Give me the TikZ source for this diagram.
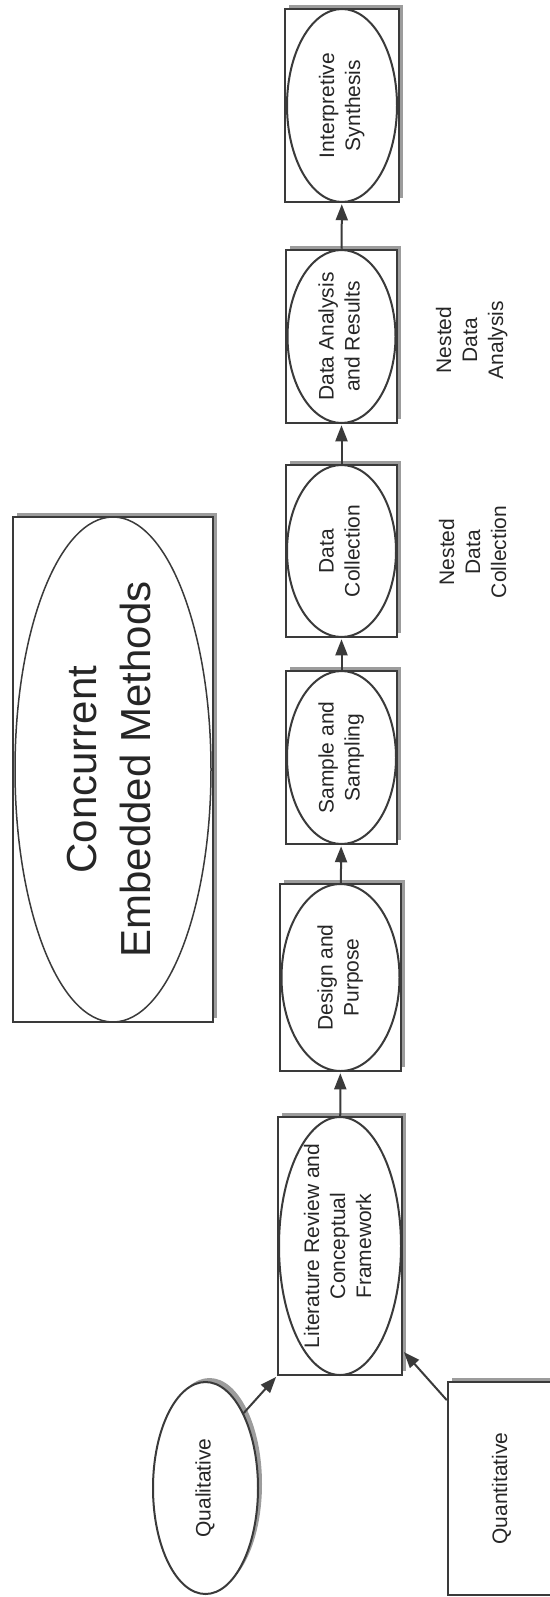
\documentclass[tikz,border=0pt]{standalone}
\usepackage{fontspec}
\setmainfont{Liberation Sans}
\usepackage{graphicx}
\usetikzlibrary{shapes.geometric,arrows.meta,shadows}

\definecolor{inkgray}{HTML}{3A3A3A}
\definecolor{shadowgray}{HTML}{9C9C9C}
\definecolor{textgray}{HTML}{262626}

\newcommand{\vtext}[1]{\rotatebox{90}{\begin{tabular}{@{}c@{}}#1\end{tabular}}}

\begin{document}
\begin{tikzpicture}[x=1pt, y=-1pt,
    stepbox/.style={draw=inkgray, line width=2.5pt, fill=white, inner sep=0pt,
      text=textgray, font=\fontsize{21}{26}\selectfont,
      drop shadow={shadow xshift=4pt, shadow yshift=4pt, fill=shadowgray, opacity=1}},
    ring/.style={draw=inkgray, line width=2pt, ellipse, inner sep=0pt},
    oval/.style={ring, fill=white, text=textgray, font=\fontsize{21}{26}\selectfont,
      drop shadow={shadow xshift=4pt, shadow yshift=4pt, fill=shadowgray, opacity=1}},
    flow/.style={draw=inkgray, line width=2pt, shorten >=1pt,
      -{Triangle[length=16pt,width=12pt]}},
    note/.style={text=textgray, font=\fontsize{21}{26}\selectfont, inner sep=0pt}]
    \useasboundingbox (0,0) rectangle (549,1597);

    % title
    \node[stepbox, line width=2pt, minimum width=200pt, minimum height=505pt,
      font=\fontsize{42}{54}\selectfont] (cem) at (113,769.5) {\vtext{Concurrent\\Embedded Methods}};
    \node[ring, line width=1.5pt, minimum width=196pt, minimum height=505pt] (cemO) at (cem.center) {};

    % steps
    \node[stepbox, minimum width=114pt, minimum height=193pt] (synth) at (342,105.5) {\vtext{Interpretive\\Synthesis}};
    \node[ring, minimum width=110pt, minimum height=193pt] (synthO) at (synth.center) {};

    \node[stepbox, minimum width=111pt, minimum height=173pt] (anal) at (341.5,336.5) {\vtext{Data Analysis\\and Results}};
    \node[ring, minimum width=108pt, minimum height=173pt] (analO) at (anal.center) {};

    \node[stepbox, minimum width=111pt, minimum height=172pt] (coll) at (341.5,551) {\vtext{Data\\Collection}};
    \node[ring, minimum width=109pt, minimum height=172pt] (collO) at (coll.center) {};

    \node[stepbox, minimum width=111pt, minimum height=173pt] (samp) at (341.5,757.5) {\vtext{Sample and\\Sampling}};
    \node[ring, minimum width=109pt, minimum height=173pt] (sampO) at (samp.center) {};

    \node[stepbox, minimum width=121pt, minimum height=187pt] (design) at (340.5,977.5) {\vtext{Design and\\Purpose}};
    \node[ring, minimum width=118pt, minimum height=187pt] (designO) at (design.center) {};

    \node[stepbox, minimum width=124pt, minimum height=258pt] (lit) at (340,1246) {\vtext{Literature Review and\\Conceptual\\Framework}};
    \node[ring, minimum width=122pt, minimum height=258pt] (litO) at (lit.center) {};

    % strands
    \node[oval, minimum width=105pt, minimum height=212pt] (qual) at (205.5,1488) {\vtext{Qualitative}};
    \node[stepbox, minimum width=108pt, minimum height=213pt] (quant) at (502,1488.5) {\vtext{Quantitative}};

    % nested notes
    \node[note] (nestAnal) at (472,340) {\vtext{Nested\\Data\\Analysis}};
    \node[note] (nestColl) at (475,552) {\vtext{Nested\\Data\\Collection}};

    \draw[flow] (lit) -- (design);
    \draw[flow] (design) -- (samp);
    \draw[flow] (samp) -- (coll);
    \draw[flow] (coll) -- (anal);
    \draw[flow] (anal) -- (synth);
    \draw[flow] (qual.63) -- (lit.south west);
    \draw[flow] (quant.122) -- (lit.-59);
  \end{tikzpicture}
\end{document}
